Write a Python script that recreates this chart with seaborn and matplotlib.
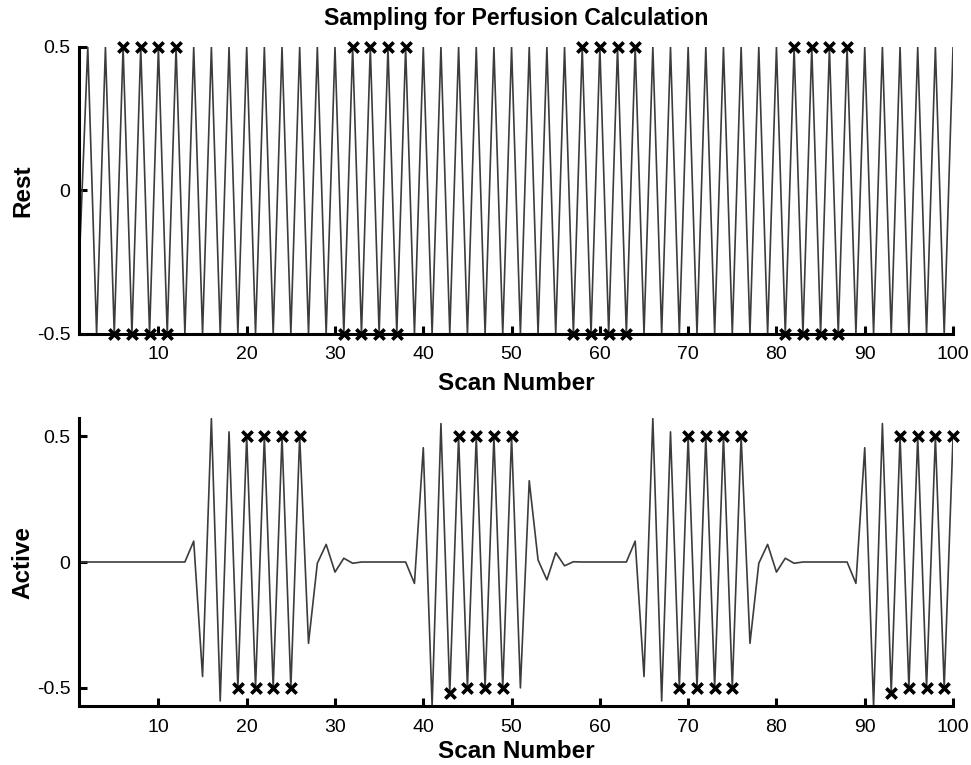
import pandas as pd
import matplotlib
matplotlib.use("Agg")
import matplotlib.pyplot as plt
import seaborn as sns

# Scan numbers 1..100
scans = list(range(1, 101))

# Rest condition: alternating label/control samples
rest = [
    -0.28, 0.5, -0.5, 0.5, -0.5, 0.5, -0.5, 0.5, -0.5, 0.5,
    -0.5, 0.5, -0.5, 0.5, -0.5, 0.5, -0.5, 0.5, -0.5, 0.5,
    -0.5, 0.5, -0.5, 0.5, -0.5, 0.5, -0.5, 0.5, -0.5, 0.5,
    -0.5, 0.5, -0.5, 0.5, -0.5, 0.5, -0.5, 0.5, -0.5, 0.5,
    -0.5, 0.5, -0.5, 0.5, -0.5, 0.5, -0.5, 0.5, -0.5, 0.5,
    -0.5, 0.5, -0.5, 0.5, -0.5, 0.5, -0.5, 0.5, -0.5, 0.5,
    -0.5, 0.5, -0.5, 0.5, -0.5, 0.5, -0.5, 0.5, -0.5, 0.5,
    -0.5, 0.5, -0.5, 0.5, -0.5, 0.5, -0.5, 0.5, -0.5, 0.5,
    -0.5, 0.5, -0.5, 0.5, -0.5, 0.5, -0.5, 0.5, -0.5, 0.5,
    -0.5, 0.5, -0.5, 0.5, -0.5, 0.5, -0.5, 0.5, -0.5, 0.5,
]

# Active condition: bursts of sampling
active = [
    0, 0, 0, 0, 0, 0, 0, 0, 0, 0,
    0, 0, 0, 0.083, -0.455, 0.57, -0.552, 0.517, -0.5, 0.5,
    -0.5, 0.5, -0.5, 0.5, -0.5, 0.5, -0.323, -0.005, 0.07, -0.04,
    0.015, -0.005, 0, 0, 0, 0, 0, 0, -0.085, 0.454,
    -0.574, 0.55, -0.52, 0.5, -0.5, 0.5, -0.5, 0.5, -0.5, 0.5,
    -0.5, 0.323, 0.008, -0.071, 0.037, -0.015, 0.001, 0, 0, 0,
    0, 0, 0, 0.083, -0.455, 0.57, -0.552, 0.517, -0.5, 0.5,
    -0.5, 0.5, -0.5, 0.5, -0.5, 0.5, -0.323, -0.005, 0.07, -0.04,
    0.015, -0.005, 0, 0, 0, 0, 0, 0, -0.085, 0.454,
    -0.574, 0.55, -0.52, 0.5, -0.5, 0.5, -0.5, 0.5, -0.5, 0.5,
]

# Scans picked for the perfusion calculation
rest_marks = [5, 6, 7, 8, 9, 10, 11, 12,
              31, 32, 33, 34, 35, 36, 37, 38,
              57, 58, 59, 60, 61, 62, 63, 64,
              81, 82, 83, 84, 85, 86, 87, 88]
active_marks = [19, 20, 21, 22, 23, 24, 25, 26,
                43, 44, 45, 46, 47, 48, 49, 50,
                69, 70, 71, 72, 73, 74, 75, 76,
                93, 94, 95, 96, 97, 98, 99, 100]

xticks = [10, 20, 30, 40, 50, 60, 70, 80, 90, 100]

df = pd.DataFrame({"Scan": scans, "Rest": rest, "Active": active})
rest_sel = df[df["Scan"].isin(rest_marks)]
active_sel = df[df["Scan"].isin(active_marks)]

sns.set_style("white")
plt.rcParams["font.family"] = ["Liberation Sans", "DejaVu Sans"]
plt.rcParams["axes.unicode_minus"] = False
plt.rcParams["text.color"] = "black"
plt.rcParams["axes.labelcolor"] = "black"
plt.rcParams["xtick.color"] = "black"
plt.rcParams["ytick.color"] = "black"

fig = plt.figure(figsize=(9.71, 7.65), dpi=100)
ax1 = fig.add_axes([0.0813, 0.5634, 0.9002, 0.3752])
ax2 = fig.add_axes([0.0813, 0.0771, 0.9002, 0.3765])

panels = [
    (ax1, "Rest", rest_sel, (-0.5, 0.5), 6),
    (ax2, "Active", active_sel, (-0.572, 0.572), 3),
]

for ax, col, sel, ylim, xpad in panels:
    sns.lineplot(data=df, x="Scan", y=col, ax=ax, color="#3c3c3c", lw=1.2, sort=False)
    sns.scatterplot(data=sel, x="Scan", y=col, ax=ax, marker="x", s=55,
                    color="black", linewidth=2.6, clip_on=False, zorder=5)
    ax.set_xlim(1, 100)
    ax.set_ylim(*ylim)
    ax.set_xticks(xticks)
    ax.set_yticks([-0.5, 0, 0.5])
    ax.set_yticklabels(["-0.5", "0", "0.5"])
    ax.tick_params(bottom=True, left=True, direction="in", length=6, width=2.2,
                   labelsize=14)
    ax.tick_params(axis="x", pad=9)
    ax.tick_params(axis="y", pad=6)
    for s in ["top", "right"]:
        ax.spines[s].set_visible(False)
    for s in ["left", "bottom"]:
        ax.spines[s].set_linewidth(2.2)
        ax.spines[s].set_color("black")
    ax.set_xlabel("Scan Number", fontsize=17.5, fontweight="bold", labelpad=xpad)
    ax.set_ylabel(col, fontsize=17.5, fontweight="bold", labelpad=2)
    ax.grid(False)

ax1.set_title("Sampling for Perfusion Calculation", fontsize=16.7, fontweight="bold", pad=16)

fig.savefig("out.png", dpi=100)
